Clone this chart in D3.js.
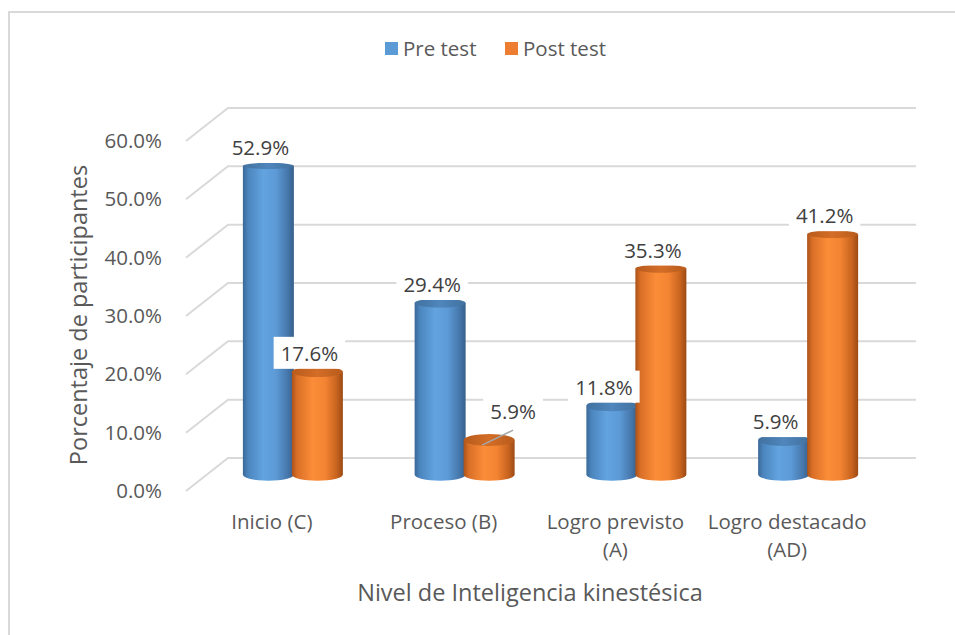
<!DOCTYPE html>
<html><head><meta charset="utf-8">
<script src="https://cdn.jsdelivr.net/npm/d3@7"></script>
<style>
html,body{margin:0;padding:0;background:#fff;}
svg{display:block;font-family:"Open Sans",Lato,sans-serif;}
</style></head>
<body><svg id="c" width="955" height="635"></svg>
<script>
const categories = [["Inicio (C)"], ["Proceso (B)"], ["Logro previsto", "(A)"], ["Logro destacado", "(AD)"]];
const seriesNames = ["Pre test", "Post test"];
const preTest = [52.9, 29.4, 11.8, 5.9];
const postTest = [17.6, 5.9, 35.3, 41.2];
const yTicks = [0, 10, 20, 30, 40, 50, 60];
const axisTitleX = "Nivel de Inteligencia kinestésica";
const axisTitleY = "Porcentaje de participantes";

const svg = d3.select("#c");
const textColor = "#595959";
const gridColor = "#d9d9d9";
const fs = 20.5;
const fsTitle = 23.5;
const ff = "'Open Sans',Lato,sans-serif";

// chart border (top & left visible)
svg.append("path").attr("d", "M9,635 L9,12 L955,12").attr("fill", "none")
  .attr("stroke", "#d9d9d9").attr("stroke-width", 2);

const catKeys = categories.map(c => c.join(" "));
const depthX = 42, depthY = -33;
const xFront = d3.scaleBand().domain(catKeys).range([186, 873]);
const xSeries = d3.scaleBand().domain(seriesNames).range([-49, 49]);
const yBack = d3.scaleLinear().domain([0, 60]).range([458, 108]);
const yFront = v => yBack(v) - depthY;
const yMid = v => yBack(v) - depthY / 2;
const backLeft = xFront.range()[0] + depthX, backRight = 916;

// gridlines
const grid = svg.append("g");
yTicks.forEach(t => {
  grid.append("path")
    .attr("d", `M${xFront.range()[0]},${yFront(t)} L${backLeft},${yBack(t)} L${backRight},${yBack(t)}`)
    .attr("fill", "none").attr("stroke", gridColor).attr("stroke-width", 2);
});

// y axis labels
const yAxisScale = d3.scaleLinear().domain([0, 60]).range([yFront(0), yFront(60)]);
const yAxis = svg.append("g").attr("transform", "translate(172,0)")
  .call(d3.axisLeft(yAxisScale).tickValues(yTicks).tickSize(0).tickPadding(10)
    .tickFormat(d => d.toFixed(1) + "%"));
yAxis.select(".domain").remove();
yAxis.selectAll("text").attr("font-size", fs).attr("fill", textColor).attr("font-family", ff);

// gradients
const defs = svg.append("defs");
function grad(id, stops) {
  const g = defs.append("linearGradient").attr("id", id).attr("x1", "0%").attr("x2", "100%").attr("y1", "0%").attr("y2", "0%");
  stops.forEach(s => g.append("stop").attr("offset", s[0]).attr("stop-color", s[1]));
}
grad("gBlue", [["0%", "#3a6897"], ["10%", "#4b85bd"], ["40%", "#62a3e0"], ["65%", "#5c9ad6"], ["88%", "#4677ab"], ["100%", "#365f8b"]]);
grad("gOrange", [["0%", "#a9521a"], ["10%", "#d96f27"], ["40%", "#fb8c38"], ["65%", "#f38432"], ["88%", "#c7631f"], ["100%", "#9c4a15"]]);
grad("tBlue", [["0%", "#41719f"], ["50%", "#4f86bc"], ["100%", "#41719f"]]);
grad("tOrange", [["0%", "#b85b1c"], ["50%", "#d36d27"], ["100%", "#b85b1c"]]);
const fills = {"Pre test": ["url(#gBlue)", "url(#tBlue)"], "Post test": ["url(#gOrange)", "url(#tOrange)"]};

const r = 25.5;
const ryAt = y => 3 + (y - 160) / 310 * 3.3;

const bars = [];
catKeys.forEach((c, i) => {
  [["Pre test", preTest[i]], ["Post test", postTest[i]]].forEach(([s, v]) => {
    const cx = xFront(c) + xFront.bandwidth() / 2 + depthX / 2 + xSeries(s) + xSeries.bandwidth() / 2;
    bars.push({c, s, v, cx, yt: yMid(v), yb: yMid(0)});
  });
});

const barG = svg.append("g");
bars.forEach(b => {
  const ryb = ryAt(b.yb), ryt = ryAt(b.yt);
  barG.append("path")
    .attr("d", `M${b.cx - r},${b.yt} L${b.cx - r},${b.yb} A${r},${ryb} 0 0 0 ${b.cx + r},${b.yb} L${b.cx + r},${b.yt} Z`)
    .attr("fill", fills[b.s][0]);
  barG.append("ellipse").attr("cx", b.cx).attr("cy", b.yt).attr("rx", r).attr("ry", ryt)
    .attr("fill", fills[b.s][1]);
});

// data labels
const labG = svg.append("g");
bars.forEach(b => {
  let lx = b.cx - 8, ly = b.yt - 19;
  const moved = (b.s === "Post test" && b.c === catKeys[1]);
  if (moved) { lx = b.cx + 24; ly = b.yt - 29; }
  const g = labG.append("g");
  if (moved) {
    g.append("line").attr("x1", b.cx - 7).attr("y1", b.yt + 5).attr("x2", b.cx + 24).attr("y2", b.yt - 10)
      .attr("stroke", "#a6a6a6").attr("stroke-width", 1.5);
  }
  const rect = g.append("rect").attr("fill", "#fff");
  const t = g.append("text").attr("x", lx).attr("y", ly).attr("text-anchor", "middle")
    .attr("dominant-baseline", "central").attr("font-size", fs).attr("fill", "#404040")
    .text(b.v.toFixed(1) + "%");
  const bb = t.node().getBBox();
  rect.attr("x", bb.x - 7).attr("y", ly - 16).attr("width", bb.width + 14).attr("height", 32);
});

// category labels
catKeys.forEach((c, i) => {
  const t = svg.append("text").attr("text-anchor", "middle").attr("font-size", fs).attr("fill", textColor);
  categories[i].forEach((line, j) => {
    t.append("tspan").attr("x", xFront(c) + xFront.bandwidth() / 2).attr("y", 529 + j * 28).text(line);
  });
});

// axis titles
svg.append("text").attr("x", 530).attr("y", 601).attr("text-anchor", "middle")
  .attr("font-size", fsTitle).attr("fill", textColor).text(axisTitleX);
svg.append("text").attr("transform", "translate(87,315) rotate(-90)").attr("text-anchor", "middle")
  .attr("font-size", fsTitle).attr("fill", textColor).text(axisTitleY);

// legend
const legColors = {"Pre test": "#5b9bd5", "Post test": "#ed7d31"};
const legX = [385, 505];
seriesNames.forEach((s, i) => {
  svg.append("rect").attr("x", legX[i]).attr("y", 42).attr("width", 13).attr("height", 13).attr("fill", legColors[s]);
  svg.append("text").attr("x", legX[i] + 18).attr("y", 56).attr("font-size", fs).attr("fill", textColor).text(s);
});
</script></body></html>
